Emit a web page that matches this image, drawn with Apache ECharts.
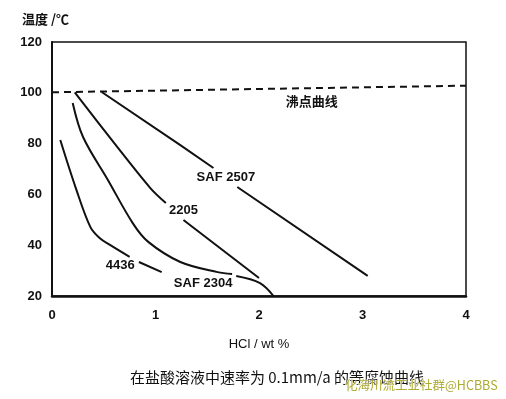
<!DOCTYPE html>
<html>
<head>
<meta charset="utf-8">
<script src="https://cdn.jsdelivr.net/npm/echarts@6/dist/echarts.min.js"></script>
<style>
html, body { margin: 0; padding: 0; background: #fff; }
#chart { width: 506px; height: 399px; }
</style>
</head>
<body>
<div id="chart"></div>
<script>
// 在盐酸溶液中速率为 0.1mm/a 的等腐蚀曲线
var xTicks = [0, 1, 2, 3, 4];
var yTicks = [20, 40, 60, 80, 100, 120];

// 沸点曲线
var boiling = [[0, 100.2], [4, 102.8]];

// SAF 2507 (null = 标注处断开)
var saf2507 = [[0.48, 100.3], [1.24, 79.4], [1.56, 70.4], null, [1.79, 62.9], [3.05, 27.9]];

// 2205
var alloy2205 = [[0.22, 100.2], [0.63, 78.7], [0.95, 62.5], [1.10, 56.6], null, [1.27, 49.9], [2.00, 27.1]];

// SAF 2304
var saf2304 = [[0.20, 96.0], [0.30, 82.6], [0.54, 65.7], [0.78, 48.7], [0.93, 41.3], [1.24, 33.4],
    [1.60, 29.4], [1.74, 28.7], null, [1.78, 27.9], [2.01, 25.1], [2.14, 20.0]];

// 4436
var alloy4436 = [[0.08, 81.4], [0.23, 62.5], [0.37, 47.2], [0.46, 42.8], [0.56, 40.1], [0.75, 35.4],
    null, [0.84, 33.4], [1.06, 29.4]];

// 曲线名称
var curveLabels = [
    {name: 'SAF 2507', value: [1.68, 66.5]},
    {name: '2205', value: [1.27, 53.5]},
    {name: '4436', value: [0.66, 32.2]},
    {name: 'SAF 2304', value: [1.46, 25.1]},
    {name: '沸点曲线', value: [2.51, 96.4]}
];

var chart = echarts.init(document.getElementById('chart'));

function curve(name, data, smooth) {
    return {
        name: name,
        type: 'line',
        data: data,
        smooth: smooth,
        connectNulls: false,
        symbol: 'none',
        lineStyle: {color: '#111', width: 2},
        silent: true
    };
}

var option = {
    animation: false,
    backgroundColor: '#fff',
    textStyle: {fontFamily: 'Liberation Sans, Arial, sans-serif'},
    title: [
        {
            text: '在盐酸溶液中速率为 0.1mm/a 的等腐蚀曲线',
            left: 272,
            top: 365,
            textAlign: 'center',
            textStyle: {fontFamily: 'Noto Sans CJK SC', fontSize: 15, fontWeight: 'normal', color: '#111'}
        },
        {
            text: '化海川流工业社群@HCBBS',
            left: 340,
            top: 374,
            textStyle: {
                fontFamily: 'Noto Sans CJK SC', fontSize: 12.5, fontWeight: 'normal', color: '#aeab32',
                textBorderColor: 'rgba(255,255,255,0.8)', textBorderWidth: 1
            }
        }
    ],
    grid: {
        left: 52,
        top: 42,
        right: 40,
        bottom: 103,
        show: true,
        borderColor: '#111',
        borderWidth: 1.5
    },
    xAxis: {
        type: 'value',
        min: xTicks[0],
        max: xTicks[xTicks.length - 1],
        interval: 1,
        name: 'HCl / wt %',
        nameLocation: 'middle',
        nameGap: 42,
        nameTextStyle: {fontSize: 13, color: '#111'},
        axisLine: {show: true, lineStyle: {color: '#111', width: 2.5}},
        axisTick: {show: false},
        splitLine: {show: false},
        axisLabel: {
            margin: 13, fontSize: 13, fontWeight: 'bold', color: '#111',
            formatter: function (v) { return xTicks.indexOf(v) >= 0 ? String(v) : ''; }
        }
    },
    yAxis: {
        type: 'value',
        min: yTicks[0],
        max: yTicks[yTicks.length - 1],
        interval: 20,
        name: '温度 /℃',
        nameLocation: 'end',
        nameGap: 16,
        nameTextStyle: {
            fontFamily: 'Noto Sans CJK SC', fontSize: 13, fontWeight: 'bold', color: '#111',
            align: 'left', padding: [0, 0, 0, -30]
        },
        axisLine: {show: true, lineStyle: {color: '#111', width: 2}},
        axisTick: {show: false},
        splitLine: {show: false},
        axisLabel: {margin: 10, fontSize: 13, fontWeight: 'bold', color: '#111'}
    },
    series: [
        {
            name: '沸点曲线',
            type: 'line',
            data: boiling,
            symbol: 'none',
            silent: true,
            lineStyle: {color: '#111', width: 2, type: [7, 5]}
        },
        curve('SAF 2507', saf2507, false),
        curve('2205', alloy2205, 0.3),
        curve('SAF 2304', saf2304, 0.35),
        curve('4436', alloy4436, 0.35),
        {
            name: 'labels',
            type: 'scatter',
            data: curveLabels,
            symbolSize: 0,
            silent: true,
            itemStyle: {color: '#111', opacity: 1},
            label: {
                show: true,
                position: [0, 0],
                align: 'center',
                verticalAlign: 'middle',
                formatter: '{b}',
                fontSize: 13,
                fontWeight: 'bold',
                color: '#111',
                opacity: 1,
                textBorderWidth: 0,
                fontFamily: 'Liberation Sans, Noto Sans CJK SC, sans-serif'
            }
        }
    ]
};

chart.setOption(option);
</script>
</body>
</html>
